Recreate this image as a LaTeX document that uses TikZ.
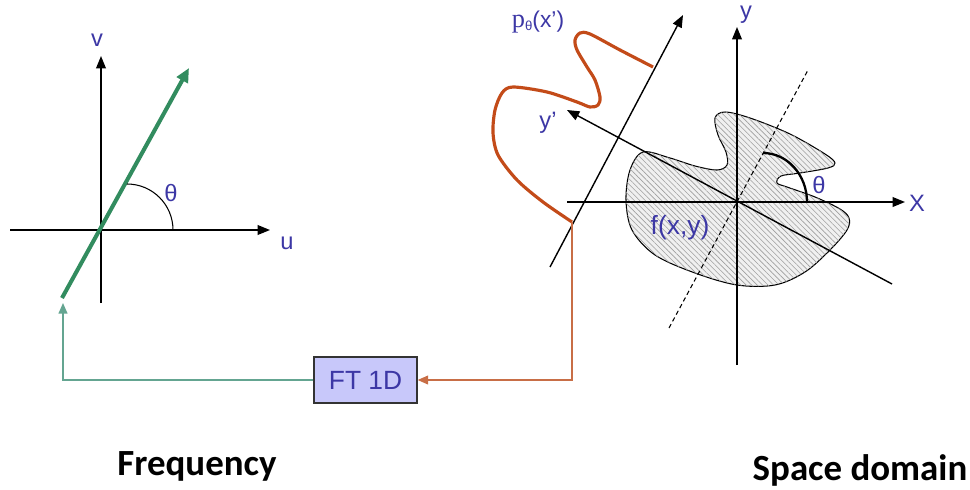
\documentclass[tikz,border=0pt]{standalone}
\usepackage{fontspec}
\setmainfont{Liberation Sans}
\newfontfamily\titlefont{Carlito}
\newfontfamily\seriffont{Liberation Serif}
\usetikzlibrary{arrows.meta,patterns.meta}
\definecolor{labelblue}{RGB}{60,55,165}
\definecolor{raygreen}{RGB}{50,140,95}
\definecolor{loopgreen}{RGB}{100,165,145}
\definecolor{projred}{RGB}{195,75,25}
\definecolor{looptan}{RGB}{200,110,70}
\definecolor{boxfill}{RGB}{200,200,250}

\tikzset{
  axis/.style={line width=0.8pt, -{Triangle[length=7pt,width=5.5pt]}},
  lbl/.style={text=labelblue, inner sep=0pt, font=\fontsize{13.5}{15}\selectfont},
  caption/.style={inner sep=0pt, font=\titlefont\bfseries\fontsize{21}{24}\selectfont},
  ftbox/.style={draw=black!80, fill=boxfill, line width=0.7pt, minimum width=2.06cm,
    minimum height=0.92cm, inner sep=0pt, text=labelblue, font=\fontsize{15}{18}\selectfont},
}

\begin{document}
\begin{tikzpicture}[x=0.02cm, y=-0.02cm]
  \useasboundingbox (0,0) rectangle (970,490);

  % Frequency plane
  \coordinate (uL) at (10,230);  \coordinate (uR) at (270,230);
  \coordinate (vB) at (101,303); \coordinate (vT) at (101,56);
  \draw[axis] (uL) -- (uR);
  \draw[axis] (vB) -- (vT);
  \coordinate (rayS) at (62,298); \coordinate (rayE) at (189,68);
  \draw[raygreen, line width=2.3pt, -{Triangle[length=8pt,width=7pt]}] (rayS) -- (rayE);
  \draw[line width=0.6pt] (173,230) arc[start angle=0, end angle=-90, radius=46];
  \node[lbl] (vlab) at (97,40) {v};
  \node[lbl] (ulab) at (287,243) {u};
  \node[lbl] (thetaF) at (171,193) {θ};

  % Space domain: object
  \draw[line width=0.6pt, fill=gray!12,
    postaction={pattern={Lines[angle=-45, distance=2.2pt, line width=0.35pt]}, pattern color=gray!75}]
    plot[smooth cycle, tension=0.55] coordinates {
      (643,152) (630,170) (626,200) (632,230) (655,255) (695,273) (737,285) (775,285)
      (805,272) (830,250) (847,230) (849,218) (840,209) (815,197) (787,187) (777,183)
      (781,176) (800,173) (828,168) (835,163) (825,154) (790,134) (750,118) (725,112)
      (715,118) (718,135) (726,152) (727,165) (717,170) (695,166) (670,158)};

  % Space domain: axes
  \coordinate (xL) at (567,202);  \coordinate (xR) at (905,202);
  \coordinate (yB) at (737,365);  \coordinate (yT) at (737,27);
  \coordinate (ypS) at (892,284); \coordinate (ypE) at (567,110);
  \coordinate (xpS) at (550,267); \coordinate (xpE) at (683,15);
  \coordinate (dS) at (669,328);  \coordinate (dE) at (808,70);
  \draw[axis] (xL) -- (xR);
  \draw[axis] (yB) -- (yT);
  \draw[axis] (ypS) -- (ypE);
  \draw[axis] (xpS) -- (xpE);
  \draw[line width=0.6pt, dash pattern=on 2.5pt off 1.8pt] (dS) -- (dE);
  \draw[line width=1.3pt] (807,202) arc[start angle=0, end angle=-90, x radius=44, y radius=49];

  % Projection
  \draw[projred, line width=1.8pt]
    plot[smooth, tension=0.5] coordinates {
      (653,67) (620,50) (590,34) (580,33) (575,40) (577,50) (587,67) (595,80)
      (600,97) (598,105) (590,107) (577,102) (547,92) (513,87) (502,93) (495,110)
      (493,133) (498,155) (517,180) (543,202) (572,222)};
  \coordinate (pend) at (572,222);

  \node[lbl] (ylab) at (746,15) {y};
  \node[lbl] (xlab) at (917,203) {X};
  \node[lbl] (yplab) at (548,123) {y’};
  \node[lbl] (thetaS) at (819,185) {θ};
  \node[lbl, font=\fontsize{15}{18}\selectfont] (flab) at (680,228) {f(x,y)};
  \node[lbl, font=\fontsize{13}{15}\selectfont] (plab) at (538,22) {{\seriffont\fontsize{15}{16}\selectfont p}\raisebox{-2pt}{\fontsize{7.5}{9}\selectfont θ}(x’)};

  % Transform loop
  \node[ftbox] (ft) at (365.5,380) {FT 1D};
  \coordinate (gtip) at (63,303);
  \draw[looptan, line width=0.9pt, -{Triangle[length=6pt,width=5pt]}] (pend) |- (ft.east);
  \draw[loopgreen, line width=0.9pt, -{Triangle[length=6pt,width=5pt]}] (ft.west) -| (gtip);

  % Captions
  \node[caption] (freq) at (197,466) {Frequency};
  \node[caption] (space) at (860,470) {Space domain};
\end{tikzpicture}
\end{document}
